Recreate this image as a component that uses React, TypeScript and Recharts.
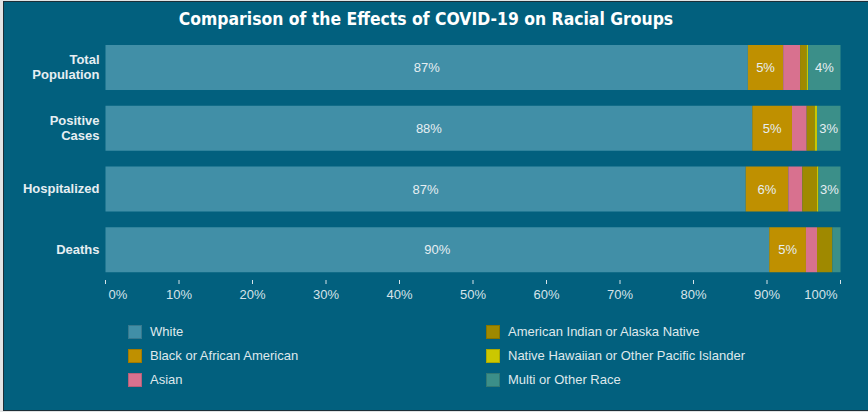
import { BarChart, Bar, XAxis, YAxis, LabelList } from 'recharts';

const categories = ['Total Population', 'Positive Cases', 'Hospitalized', 'Deaths'];
const white = [87.4, 88.0, 87.1, 90.3];
const black = [4.8, 5.4, 5.8, 5.0];
const asian = [2.3, 2.0, 1.9, 1.5];
const aian = [0.9, 1.1, 2.0, 2.1];
const nhpi = [0.2, 0.3, 0.2, 0.0];
const multi = [4.4, 3.2, 3.0, 1.1];
const xTicks = [0, 10, 20, 30, 40, 50, 60, 70, 80, 90, 100];

const BG = '#02607e';
const TEXT = '#e6eef2';
const FONT = '"Liberation Sans", Arial, sans-serif';

const series = [
  { key: 'white', name: 'White', color: '#418fa7', values: white },
  { key: 'black', name: 'Black or African American', color: '#bf9000', values: black },
  { key: 'asian', name: 'Asian', color: '#d8718f', values: asian },
  { key: 'aian', name: 'American Indian or Alaska Native', color: '#9f8900', values: aian },
  { key: 'nhpi', name: 'Native Hawaiian or Other Pacific Islander', color: '#cbc700', values: nhpi },
  { key: 'multi', name: 'Multi or Other Race', color: '#3b8f89', values: multi },
];

const data = categories.map((cat, i) => {
  const row: Record<string, string | number> = { cat };
  series.forEach((s) => {
    row[s.key] = s.values[i];
  });
  return row;
});

// two-line labels on the category axis
const catLines: Record<string, string[]> = {
  'Total Population': ['Total', 'Population'],
  'Positive Cases': ['Positive', 'Cases'],
  Hospitalized: ['Hospitalized'],
  Deaths: ['Deaths'],
};

const YTick = (props: any) => {
  const { x, y, payload } = props;
  const lines = catLines[payload.value] ?? [payload.value];
  const start = y - ((lines.length - 1) * 15) / 2;
  return (
    <text x={x + 2} y={start} textAnchor="end" fill={TEXT} fontSize={13} fontWeight="bold" fontFamily={FONT}>
      {lines.map((l, i) => (
        <tspan key={l} x={x + 2} y={start + i * 15} dy="0.35em">
          {l}
        </tspan>
      ))}
    </text>
  );
};

const XTick = (props: any) => {
  const { x, y, payload } = props;
  let anchor: 'start' | 'middle' | 'end' = 'middle';
  let dx = 0;
  if (payload.value === 0) {
    anchor = 'start';
    dx = 3;
  } else if (payload.value === 100) {
    anchor = 'end';
    dx = -3;
  }
  return (
    <text x={x + dx} y={y + 13} textAnchor={anchor} fill="#d6e3e9" fontSize={13} fontFamily={FONT}>
      {payload.value}%
    </text>
  );
};

const SegLabel = (props: any) => {
  const { x, y, width, height, value } = props;
  if (value < 2.5) return null;
  return (
    <text
      x={x + width / 2}
      y={y + height / 2}
      dy="0.35em"
      textAnchor="middle"
      fill={TEXT}
      fontSize={13}
      fontFamily={FONT}
    >
      {Math.round(value)}%
    </text>
  );
};

export default function App() {
  const left = series.slice(0, 3);
  const right = series.slice(3);
  return (
    <div style={{ position: 'fixed', left: 0, top: 0, width: 868, height: 412, background: '#e2e4e5', overflow: 'hidden' }}>
      <div
        style={{
          position: 'absolute',
          left: 3,
          top: 1,
          width: 880,
          height: 408,
          background: BG,
          border: '1.5px solid #1d2f38',
        }}
      />
      <div
        style={{
          position: 'absolute',
          left: 0,
          top: 9,
          width: 852,
          textAlign: 'center',
          color: '#ffffff',
          fontFamily: '"DejaVu Sans Condensed", "DejaVu Sans", sans-serif',
          fontWeight: 'bold',
          fontSize: 17.4,
        }}
      >
        Comparison of the Effects of COVID-19 on Racial Groups
      </div>
      <div style={{ position: 'absolute', left: 0, top: 0 }}>
        <BarChart
          width={868}
          height={412}
          data={data}
          layout="vertical"
          margin={{ top: 37, right: 27.5, left: 5.5, bottom: 102 }}
          barSize={45}
        >
          <XAxis
            type="number"
            domain={[0, 100]}
            ticks={xTicks}
            axisLine={false}
            tickLine={{ stroke: '#d6e3e9' }}
            tickSize={4}
            height={30}
            tick={<XTick />}
            interval={0}
          />
          <YAxis type="category" dataKey="cat" width={100} axisLine={false} tickLine={false} tick={<YTick />} />
          {series.map((s) => (
            <Bar key={s.key} dataKey={s.key} name={s.name} stackId="a" fill={s.color} isAnimationActive={false}>
              <LabelList dataKey={s.key} content={<SegLabel />} />
            </Bar>
          ))}
        </BarChart>
      </div>
      {[left, right].map((col, ci) => (
        <div key={ci} style={{ position: 'absolute', left: ci === 0 ? 128 : 486, top: 323 }}>
          {col.map((s) => (
            <div key={s.key} style={{ display: 'flex', alignItems: 'center', height: 24 }}>
              <span
                style={{
                  width: 14,
                  height: 14,
                  background: s.color,
                  boxSizing: 'border-box',
                  border: '1px solid rgba(0,0,0,0.15)',
                  marginRight: 8,
                  marginTop: -7,
                }}
              />
              <span style={{ color: '#dfe8ec', fontSize: 13, fontFamily: FONT, marginTop: -7 }}>{s.name}</span>
            </div>
          ))}
        </div>
      ))}
    </div>
  );
}
